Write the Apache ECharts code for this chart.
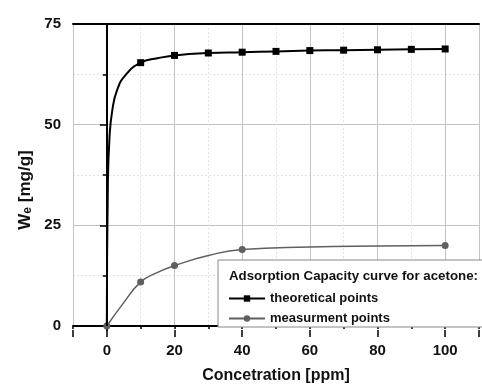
<!DOCTYPE html>
<html>
<head>
<meta charset="utf-8">
<script src="https://cdn.jsdelivr.net/npm/echarts@6/dist/echarts.min.js"></script>
<style>
  html, body { margin: 0; padding: 0; background: #fff; }
  #chart { width: 482px; height: 389px; }
</style>
</head>
<body>
<div id="chart"></div>
<script>
// theoretical points (squares) and the fitted curve
const theoX = [10, 20, 30, 40, 50, 60, 70, 80, 90, 100];
const theoY = [65.4, 67.2, 67.8, 68.0, 68.2, 68.4, 68.5, 68.6, 68.7, 68.8];
const theoCurveX = [0, 0.3, 0.8, 1.6, 3, 5.5, 15];
const theoCurveY = [0, 35, 47, 53.5, 58.5, 62.3, 66.5];

// measurement points (circles) and their curve
const measX = [0, 10, 20, 40, 100];
const measY = [0, 10.9, 15.0, 19.0, 20.0];
const measCurveX = [5, 15, 30, 60, 80];
const measCurveY = [5.8, 13.3, 17.5, 19.6, 19.85];

const seriesNames = ['theoretical points', 'measurment points'];
const legendTitle = 'Adsorption Capacity curve for acetone:';
const xName = 'Concetration [ppm]';
const xLabels = [0, 20, 40, 60, 80, 100];

const FONT = 'Liberation Sans, Arial, sans-serif';

// points and curve in one list, sorted on x; curve-only points get no marker
function buildData(px, py, cx, cy) {
  let items = [];
  px.forEach((x, i) => items.push({ value: [x, py[i]] }));
  cx.forEach((x, i) => items.push({ value: [x, cy[i]], symbol: 'none' }));
  items.sort((a, b) => a.value[0] - b.value[0]);
  return items;
}

const chart = echarts.init(document.getElementById('chart'));
chart.setOption({
  animation: false,
  backgroundColor: '#fff',
  textStyle: { fontFamily: FONT },
  title: {
    text: legendTitle,
    left: 229,
    top: 270,
    padding: 0,
    textStyle: { fontSize: 13.3, fontWeight: 'bold', color: '#111', fontFamily: FONT }
  },
  legend: {
    orient: 'vertical',
    left: 218,
    top: 260,
    padding: [32, 100, 2, 10],
    itemGap: 7,
    itemWidth: 36,
    itemHeight: 8,
    backgroundColor: '#fff',
    borderColor: '#888',
    borderWidth: 1,
    textStyle: { fontSize: 13, fontWeight: 'bold', color: '#111', fontFamily: FONT },
    data: seriesNames
  },
  grid: [
    { left: 73, right: -4, top: 24, bottom: 63 },
    { left: 73, right: -4, top: 24, bottom: 59 }
  ],
  xAxis: [
    {
      // main axis: labels, short ticks every 10, light dashed grid
      type: 'value', gridIndex: 0, position: 'bottom', offset: 4,
      min: -10, max: 110, interval: 10,
      axisLine: { lineStyle: { color: '#000', width: 2 } },
      axisTick: { length: 3, lineStyle: { color: '#000', width: 1.5 } },
      axisLabel: {
        margin: 13, fontSize: 15, fontWeight: 'bold', color: '#111', fontFamily: FONT,
        formatter: v => (xLabels.indexOf(v) >= 0 ? String(v) : '')
      },
      splitLine: { show: true, lineStyle: { color: '#e4e4e4', type: [2, 2] } },
      name: xName, nameLocation: 'middle', nameGap: 38,
      nameTextStyle: { fontSize: 16, fontWeight: 'bold', color: '#111', fontFamily: FONT }
    },
    {
      // long ticks + solid grid every 20
      type: 'value', gridIndex: 0, position: 'bottom', offset: 4,
      min: -10, max: 110, splitNumber: 6,
      axisLine: { show: false },
      axisTick: { length: 7, lineStyle: { color: '#000', width: 1.5 } },
      axisLabel: { show: false },
      splitLine: { show: true, lineStyle: { color: '#c2c2c2', width: 1 } }
    },
    {
      // top frame line
      type: 'value', gridIndex: 0, position: 'top',
      min: -10, max: 110,
      axisLine: { lineStyle: { color: '#000', width: 2 } },
      axisTick: { show: false }, axisLabel: { show: false }, splitLine: { show: false }
    },
    { type: 'value', gridIndex: 1, min: -10, max: 110, show: false }
  ],
  yAxis: [
    {
      type: 'value', gridIndex: 0, min: 0, max: 75, interval: 25,
      axisLine: { show: true, lineStyle: { color: '#000', width: 2 } },
      axisTick: { show: true, length: 7, lineStyle: { color: '#000', width: 1.5 } },
      minorTick: { show: true, splitNumber: 2, length: 4, lineStyle: { color: '#000', width: 1.5 } },
      axisLabel: { margin: 12, fontSize: 15, fontWeight: 'bold', color: '#111', fontFamily: FONT },
      splitLine: { show: true, lineStyle: { color: '#c2c2c2', width: 1 } },
      minorSplitLine: { show: true, lineStyle: { color: '#e4e4e4', type: [2, 2] } },
      name: '{w|W}{s|e}{w| [mg/g]}',
      nameLocation: 'middle', nameRotate: 90, nameGap: 38,
      nameTextStyle: {
        padding: [0, 30, 0, 0],
        rich: {
          w: { fontSize: 17, fontWeight: 'bold', color: '#111', fontFamily: FONT, verticalAlign: 'bottom', lineHeight: 22 },
          s: { fontSize: 12, fontWeight: 'bold', color: '#111', fontFamily: FONT, verticalAlign: 'bottom', lineHeight: 16 }
        }
      }
    },
    {
      // y axis line stretched down to the offset x axis
      type: 'value', gridIndex: 1, min: 0, max: 1,
      axisLine: { show: true, lineStyle: { color: '#000', width: 2 } },
      axisTick: { show: false }, axisLabel: { show: false }, splitLine: { show: false }
    }
  ],
  series: [
    {
      name: seriesNames[0], type: 'line', xAxisIndex: 0, yAxisIndex: 0,
      smooth: 0.5,
      symbol: 'rect', symbolSize: 7,
      itemStyle: { color: '#000' },
      lineStyle: { color: '#000', width: 2 },
      z: 3,
      data: buildData(theoX, theoY, theoCurveX, theoCurveY)
    },
    {
      name: seriesNames[1], type: 'line', xAxisIndex: 0, yAxisIndex: 0,
      smooth: 0.5,
      symbol: 'circle', symbolSize: 7,
      itemStyle: { color: '#5f5f5f' },
      lineStyle: { color: '#5f5f5f', width: 1.5 },
      z: 2,
      data: buildData(measX, measY, measCurveX, measCurveY)
    }
  ]
});
</script>
</body>
</html>
